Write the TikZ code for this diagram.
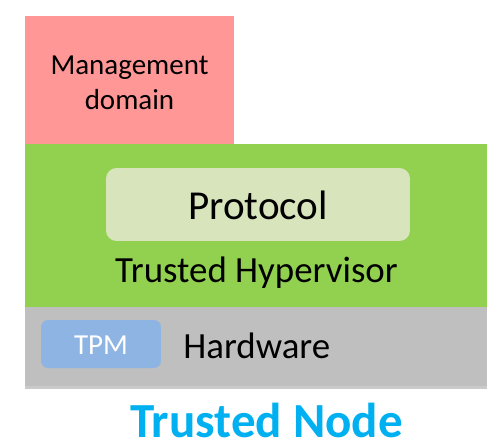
\documentclass[tikz,border=0pt]{standalone}
\usepackage{fontspec}
\setmainfont{Carlito}
\usepackage{tikz}
\usetikzlibrary{shadows}

\definecolor{mgmtred}{HTML}{FF9797}
\definecolor{hvgreen}{HTML}{92D050}
\definecolor{protogreen}{HTML}{D8E4BC}
\definecolor{hwgray}{HTML}{BFBFBF}
\definecolor{tpmblue}{HTML}{8DB4E2}
\definecolor{nodeblue}{HTML}{00B0F0}

\tikzset{
    layer/.style={anchor=north west, inner sep=0pt, outer sep=0pt},
    softshadow/.style={drop shadow={shadow xshift=0pt, shadow yshift=-1.5pt, opacity=0.35, fill=black!60}},
    labeltext/.style={inner sep=0pt, text=black}
}

\begin{document}
\begin{tikzpicture}[x=0.02cm, y=-0.02cm]
        \useasboundingbox (0,0) rectangle (487,447);

        % Management domain on top left
        \node[layer, fill=mgmtred, softshadow, minimum width=4.18cm, minimum height=2.6cm] (mgmt) at (25,16) {};
        \node[labeltext, align=center, font=\fontsize{16.5}{19.8}\selectfont] (mgmtlbl) at (129.5,83) {Management\\domain};

        % Hypervisor layer
        \node[layer, fill=hvgreen, minimum width=9.24cm, minimum height=3.26cm] (hv) at (25,144) {};
        \node[fill=protogreen, rounded corners=6pt, inner sep=0pt, minimum width=6.08cm, minimum height=1.46cm] (proto) at (258,204.5) {};
        \node[labeltext, anchor=base, font=\fontsize{23.4}{28}\selectfont] (protolbl) at (258,219) {Protocol};
        \node[labeltext, anchor=base, font=\fontsize{21}{25}\selectfont] (hvlbl) at (256.5,282) {Trusted Hypervisor};

        % Hardware layer
        \node[layer, fill=hwgray, softshadow, minimum width=9.24cm, minimum height=1.58cm] (hw) at (25,307) {};
        \node[fill=tpmblue, rounded corners=4pt, inner sep=0pt, minimum width=2.4cm, minimum height=0.96cm] (tpm) at (101,344) {};
        \node[labeltext, anchor=base, text=white, font=\fontsize{16.5}{19.8}\selectfont] (tpmlbl) at (101,354) {TPM};
        \node[labeltext, anchor=base west, font=\fontsize{21}{25}\selectfont] (hwlbl) at (183,358) {Hardware};

        % Caption
        \node[labeltext, anchor=base, text=nodeblue, font=\fontsize{27.9}{33}\selectfont\bfseries] (caption) at (266.5,437) {Trusted Node};
    \end{tikzpicture}
\end{document}
